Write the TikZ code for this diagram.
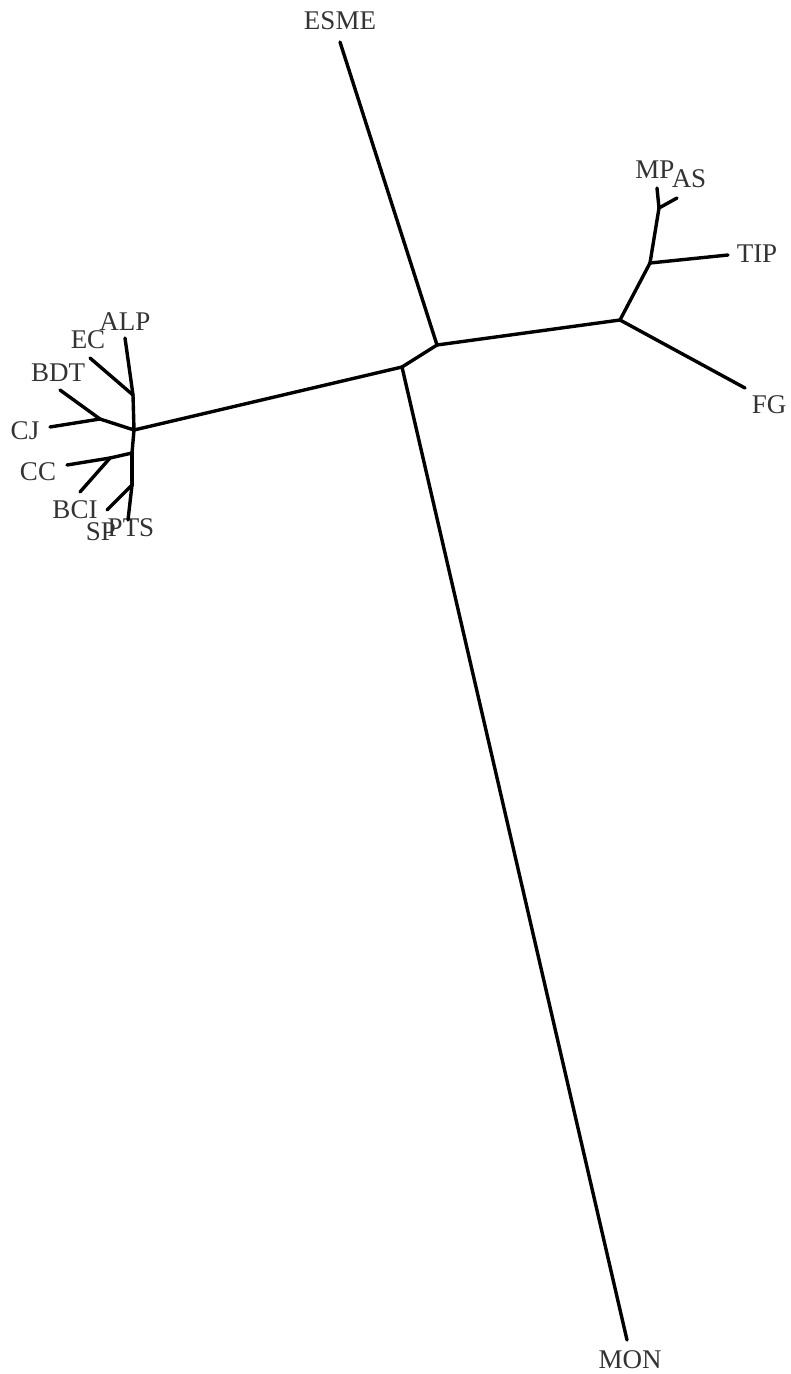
\documentclass[tikz,border=0pt]{standalone}
\usepackage{fontspec}
\setmainfont{Liberation Serif}
\begin{document}
\begin{tikzpicture}[x=1pt,y=-1pt,
  br/.style={line width=3.4pt,line cap=round,line join=round},
  lab/.style={inner sep=0pt,font=\fontsize{27}{27}\selectfont,text=black!80}]
\useasboundingbox (0,0) rectangle (791,1374);
% junctions
\coordinate (A) at (437,345);
\coordinate (B) at (402,367);
\coordinate (C) at (620,320);
\coordinate (D) at (650,263);
\coordinate (E) at (659,208);
\coordinate (F) at (134,430);
\coordinate (G) at (133,395);
\coordinate (H) at (100,419);
\coordinate (J) at (132,453);
\coordinate (I) at (110,458);
\coordinate (K) at (132,485);
% leaf ends
\coordinate (eESME) at (340,42);
\coordinate (eMON) at (627,1340);
\coordinate (eFG) at (745,388);
\coordinate (eTIP) at (728,255);
\coordinate (eAS) at (677,198);
\coordinate (eMP) at (657,188);
\coordinate (eALP) at (125,338);
\coordinate (eEC) at (90,358);
\coordinate (eBDT) at (60,390);
\coordinate (eCJ) at (50,427);
\coordinate (eCC) at (67,465);
\coordinate (eBCI) at (80,492);
\coordinate (eSP) at (107,510);
\coordinate (ePTS) at (128,520);
% labels
\node[lab] (ESME) at (340,21) {ESME};
\node[lab] (MON) at (630,1360) {MON};
\node[lab] (FG) at (769,405) {FG};
\node[lab] (TIP) at (757,254) {TIP};
\node[lab] (MP) at (655,170) {MP};
\node[lab] (AS) at (689,179) {AS};
\node[lab] (ALP) at (125,322) {ALP};
\node[lab] (EC) at (88,340) {EC};
\node[lab] (BDT) at (58,373) {BDT};
\node[lab] (CJ) at (25,431) {CJ};
\node[lab] (CC) at (38,472) {CC};
\node[lab] (BCI) at (75,510) {BCI};
\node[lab] (SP) at (101,532) {SP};
\node[lab] (PTS) at (131,528) {PTS};
% branches
\draw[br] (eESME) -- (A);
\draw[br] (A) -- (B);
\draw[br] (B) -- (eMON);
\draw[br] (A) -- (C);
\draw[br] (C) -- (eFG);
\draw[br] (C) -- (D);
\draw[br] (D) -- (eTIP);
\draw[br] (D) -- (E);
\draw[br] (E) -- (eMP);
\draw[br] (E) -- (eAS);
\draw[br] (B) -- (F);
\draw[br] (F) -- (G);
\draw[br] (G) -- (eALP);
\draw[br] (G) -- (eEC);
\draw[br] (F) -- (H);
\draw[br] (H) -- (eBDT);
\draw[br] (H) -- (eCJ);
\draw[br] (F) -- (J);
\draw[br] (J) -- (I);
\draw[br] (I) -- (eCC);
\draw[br] (I) -- (eBCI);
\draw[br] (J) -- (K);
\draw[br] (K) -- (eSP);
\draw[br] (K) -- (ePTS);
\end{tikzpicture}
\end{document}
